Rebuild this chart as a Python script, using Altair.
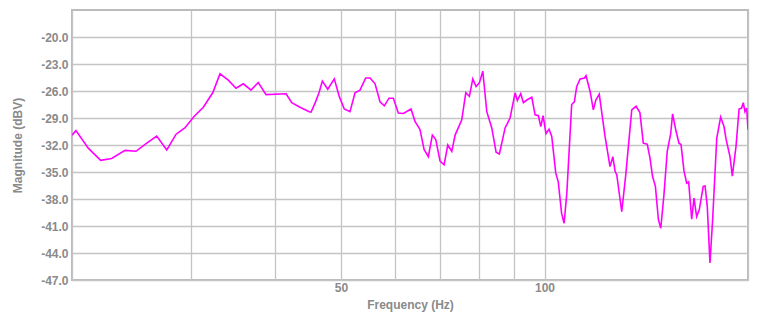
import altair as alt
import pandas as pd

freq_hz = [
    20.0, 20.27, 21.14, 22.05, 22.89, 23.96, 24.87, 25.80, 26.69, 27.62,
    28.51, 29.37, 30.33, 31.28, 32.30, 33.11, 34.06, 34.97, 35.85, 36.80,
    37.72, 38.73, 41.47, 42.28, 43.48, 44.88, 45.15, 45.77, 46.39, 46.92,
    47.79, 48.87, 49.70, 50.56, 51.55, 52.45, 53.34, 54.39, 55.19, 56.15,
    57.10, 57.95, 58.88, 59.76, 60.78, 61.83, 63.47, 64.35, 65.22, 65.44,
    66.35, 67.32, 68.25, 69.05, 70.06, 71.03, 71.93, 72.92, 73.75, 75.44,
    76.48, 77.42, 78.33, 79.21, 80.10, 81.04, 82.15, 83.56, 84.80, 85.75,
    87.44, 88.93, 90.47, 91.17, 92.22, 93.06, 94.14, 95.76, 96.85, 97.94,
    98.74, 99.52, 100.5, 101.56, 102.5, 103.9, 104.8, 106.0, 106.9, 107.9,
    109.7, 110.7, 111.6, 112.9, 114.6, 115.2, 116.8, 118.1, 119.1, 120.5,
    122.9, 125.0, 126.2, 127.2, 127.9, 130.1, 131.9, 134.6, 136.6, 138.4,
    140.0, 141.9, 143.2, 144.5, 145.9, 147.4, 148.6, 150.2, 151.9, 153.7,
    154.7, 156.5, 158.1, 159.2, 160.8, 162.3, 163.4, 165.1, 166.4, 167.9,
    169.4, 171.7, 172.8, 174.1, 175.7, 177.3, 179.8, 182.2, 184.3, 185.6,
    188.1, 189.6, 192.0, 194.0, 195.7, 196.8, 197.95, 199.1, 200.0,
]
magnitude_dbv = [
    -30.9, -30.4, -32.35, -33.7, -33.5, -32.6, -32.7, -31.8, -31.0, -32.55,
    -30.8, -30.1, -28.8, -27.8, -26.2, -24.1, -24.8, -25.7, -25.2, -25.9,
    -25.05, -26.4, -26.3, -27.3, -27.8, -28.3, -28.35, -27.35, -26.2, -24.9,
    -25.8, -24.65, -26.6, -28.0, -28.3, -26.2, -25.9, -24.55, -24.55, -25.2,
    -27.2, -27.65, -26.8, -26.8, -28.45, -28.5, -28.0, -29.4, -30.1, -30.3,
    -32.5, -33.3, -30.9, -31.4, -33.8, -34.2, -32.0, -32.7, -30.9, -29.2,
    -26.2, -26.6, -24.65, -25.5, -25.1, -23.8, -28.3, -30.1, -32.8, -33.0,
    -30.1, -29.0, -26.2, -27.05, -26.3, -27.3, -27.0, -26.7, -28.65, -28.75,
    -29.95, -28.75, -30.75, -30.25, -31.05, -35.1, -36.1, -39.6, -40.7, -37.35,
    -27.5, -27.2, -25.5, -24.65, -24.55, -24.3, -26.05, -28.1, -27.0, -26.35,
    -31.05, -34.4, -33.3, -34.95, -35.3, -39.4, -35.3, -28.1, -27.7, -28.4,
    -31.8, -31.9, -33.4, -35.5, -36.6, -40.3, -41.25, -37.55, -32.7, -30.75,
    -28.55, -30.45, -31.8, -31.95, -34.85, -36.25, -36.1, -40.25, -37.9, -39.95,
    -39.2, -36.6, -36.55, -38.85, -45.1, -40.3, -31.25, -28.9, -29.95, -31.35,
    -33.3, -35.45, -32.15, -28.0, -27.9, -27.3, -28.3, -27.9, -30.3,
]

x_ticks = [20, 30, 40, 50, 60, 70, 80, 90, 100, 200]
x_labelled = [50, 100]
y_ticks = [-47, -44, -41, -38, -35, -32, -29, -26, -23, -20]

df = pd.DataFrame({"freq": freq_hz, "mag": magnitude_dbv})

label_expr = " || ".join(f"datum.value == {v}" for v in x_labelled)

font = "Liberation Sans"
grey = "#8a8a8a"

chart = (
    alt.Chart(df)
    .mark_line(color="#ff00ff", strokeWidth=1.6, clip=True)
    .encode(
        x=alt.X(
            "freq:Q",
            scale=alt.Scale(type="log", domain=[20, 200], nice=False),
            axis=alt.Axis(
                title="Frequency (Hz)",
                values=x_ticks,
                format="d",
                labelExpr=f"({label_expr}) ? datum.label : ''",
                domain=False,
                ticks=False,
                labelPadding=2,
                titlePadding=6,
                grid=True,
            ),
        ),
        y=alt.Y(
            "mag:Q",
            scale=alt.Scale(domain=[-47, -17], nice=False, zero=False),
            axis=alt.Axis(
                title="Magnitude (dBV)",
                values=y_ticks,
                format=".1f",
                labelExpr="replace(format(datum.value, '.1f'), '\u2212', '-')",
                domain=False,
                ticks=False,
                labelPadding=4,
                titlePadding=16,
                grid=True,
            ),
        ),
    )
    .properties(
        width=676,
        height=270,
        autosize=alt.AutoSizeParams(type="none"),
        padding={"left": 64, "top": 2, "right": 4, "bottom": 35},
    )
    .configure_view(stroke="#bbbbbb", strokeWidth=2)
    .configure_axis(
        gridColor="#c4c4c4",
        gridWidth=1.3,
        labelFont=font,
        labelFontSize=12,
        labelFontWeight="bold",
        labelColor=grey,
        titleFont=font,
        titleFontSize=12,
        titleFontWeight="bold",
        titleColor=grey,
    )
)

chart.save("out.html", embed_options={"renderer": "svg", "actions": False})
